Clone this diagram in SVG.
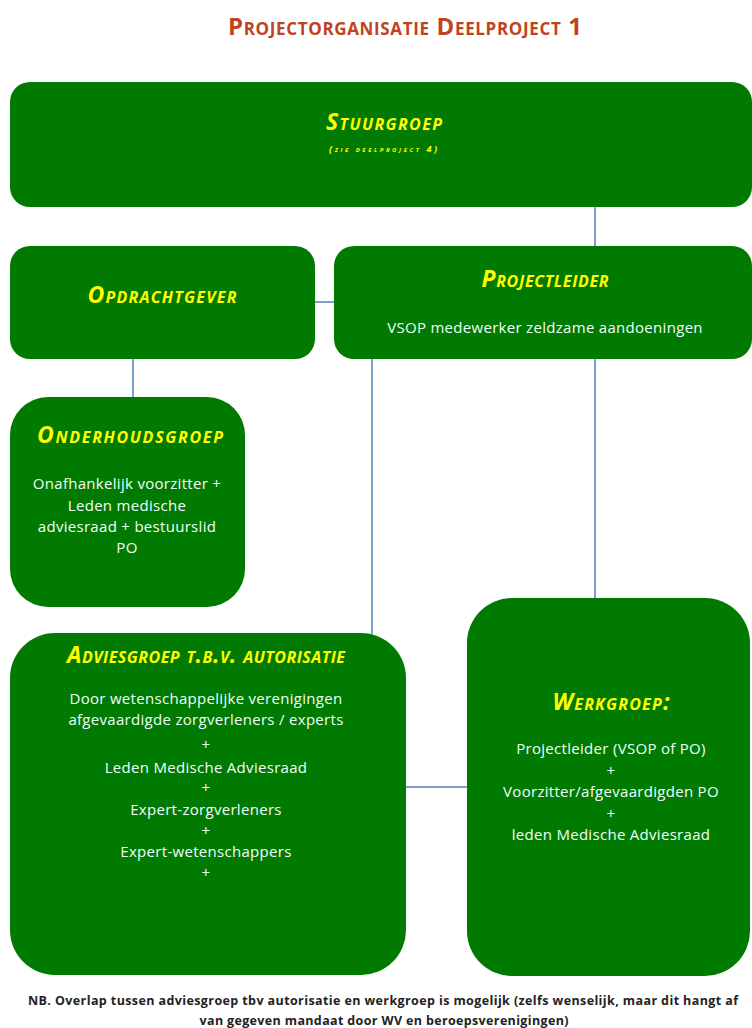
<svg xmlns="http://www.w3.org/2000/svg" width="752" height="1028" viewBox="0 0 752 1028">
<style>
.box{fill:#007A00;}
.hd{font-family:"Open Sans","Liberation Sans",sans-serif;font-weight:bold;font-style:italic;font-variant:small-caps;fill:#FFFF00;text-anchor:middle;font-size:23px;}
.tx{font-family:"Open Sans","Liberation Sans",sans-serif;fill:#F2FFFF;text-anchor:middle;font-size:15px;letter-spacing:0.3px;}
.ft{font-family:"Open Sans","Liberation Sans",sans-serif;font-weight:bold;fill:#222222;text-anchor:middle;font-size:12.5px;}
.ln{stroke:#4F81BD;stroke-width:1.5;fill:none;}
</style>
<rect width="752" height="1028" fill="#FFFFFF"/>
<text x="405" y="35" font-family="Open Sans, Liberation Sans, sans-serif" font-weight="bold" font-variant="small-caps" font-size="24" fill="#BE4320" text-anchor="middle" textLength="354">Projectorganisatie Deelproject 1</text>
<g id="connectors">
<line class="ln" x1="595" y1="207" x2="595" y2="247"/>
<line class="ln" x1="314" y1="302" x2="335" y2="302"/>
<line class="ln" x1="133" y1="358" x2="133" y2="398"/>
<line class="ln" x1="372" y1="358" x2="372" y2="634"/>
<line class="ln" x1="595" y1="358" x2="595" y2="599"/>
<line class="ln" x1="405" y1="787" x2="468" y2="787"/>
</g>
<g id="stuurgroep">
<rect class="box" x="10" y="82" width="742" height="125" rx="20"/>
<text class="hd" x="384" y="130" textLength="116">Stuurgroep</text>
<text class="hd" x="383" y="152" style="font-size:9px" textLength="108">(zie deelproject  4)</text>
</g>
<g id="opdrachtgever">
<rect class="box" x="10" y="246" width="305" height="113" rx="20"/>
<text class="hd" x="162" y="303" textLength="149">Opdrachtgever</text>
</g>
<g id="projectleider">
<rect class="box" x="334" y="246" width="418" height="113" rx="20"/>
<text class="hd" x="545" y="287" textLength="127">Projectleider</text>
<text class="tx" x="545" y="333">VSOP medewerker zeldzame aandoeningen</text>
</g>
<g id="onderhoudsgroep">
<rect class="box" x="10" y="397" width="235" height="210" rx="38"/>
<text class="hd" x="130" y="443" textLength="186">Onderhoudsgroep</text>
<text class="tx" x="127" y="489">Onafhankelijk voorzitter +</text>
<text class="tx" x="127" y="511">Leden  medische</text>
<text class="tx" x="127" y="532">adviesraad + bestuurslid</text>
<text class="tx" x="127" y="553">PO</text>
</g>
<g id="adviesgroep">
<rect class="box" x="10" y="633" width="396" height="342" rx="45"/>
<text class="hd" x="206" y="663" textLength="278">Adviesgroep t.b.v. autorisatie</text>
<text class="tx" x="206" y="704">Door wetenschappelijke verenigingen</text>
<text class="tx" x="206" y="725">afgevaardigde zorgverleners / experts</text>
<text class="tx" x="206" y="750">+</text>
<text class="tx" x="206" y="773">Leden  Medische Adviesraad</text>
<text class="tx" x="206" y="793">+</text>
<text class="tx" x="206" y="815">Expert-zorgverleners</text>
<text class="tx" x="206" y="836">+</text>
<text class="tx" x="206" y="857">Expert-wetenschappers</text>
<text class="tx" x="206" y="878">+</text>
</g>
<g id="werkgroep">
<rect class="box" x="467" y="598" width="283" height="378" rx="45"/>
<text class="hd" x="611" y="710" textLength="117">Werkgroep:</text>
<text class="tx" x="611" y="754">Projectleider (VSOP of PO)</text>
<text class="tx" x="611" y="776">+</text>
<text class="tx" x="611" y="797">Voorzitter/afgevaardigden PO</text>
<text class="tx" x="611" y="819">+</text>
<text class="tx" x="611" y="840">leden Medische Adviesraad</text>
</g>
<text class="ft" x="383" y="1005" textLength="710">NB. Overlap tussen adviesgroep  tbv autorisatie en werkgroep  is mogelijk (zelfs wenselijk, maar dit hangt af</text>
<text class="ft" x="384" y="1025" textLength="369">van gegeven  mandaat door WV en beroepsverenigingen)</text>
</svg>
